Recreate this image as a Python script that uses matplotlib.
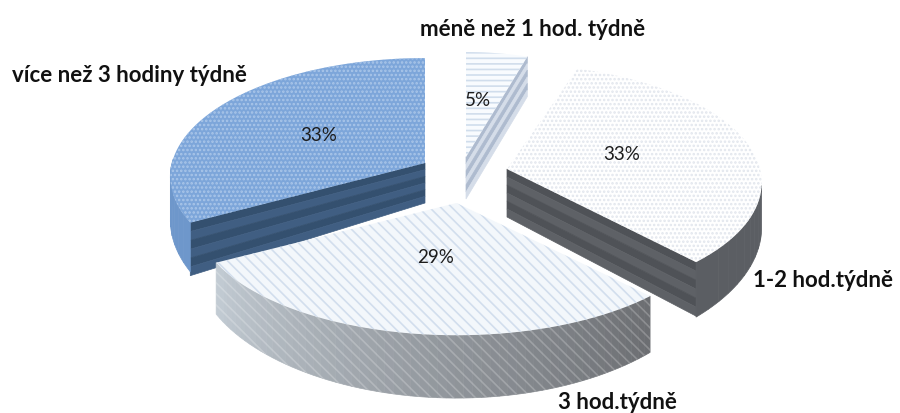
import numpy as np
import matplotlib
matplotlib.use("Agg")
import matplotlib.pyplot as plt
from matplotlib.colors import to_rgb

# --- data ---
categories = ["méně než 1 hod. týdně", "1-2 hod.týdně", "3 hod.týdně", "více než 3 hodiny týdně"]
shares = [5, 33, 29, 33]
pct_labels = ["5%", "33%", "29%", "33%"]

# --- layout / style ---
W, H = 900, 414
R, RY, P, P_DEPTH = 253, 117, 0.115, 0.30
apex = [(466, 158), (507, 170), (456.5, 204), (425, 164)]
x_scale = [0.87, 1.0, 1.024, 1.0]
rim_depth = [42, 43, 44, 42]
label_xy = [(533, 29), (823, 281), (617, 403), (129, 76)]
pct_xy = [(478, 101), (622, 155), (436, 258), (319, 136)]

plt.rcParams["hatch.linewidth"] = 1.2
plt.rcParams["font.family"] = ["Lato", "DejaVu Sans"]
fig = plt.figure(figsize=(W / 100, H / 100), dpi=100)
ax = fig.add_axes([0, 0, 1, 1])
ax.set_xlim(0, W)
ax.set_ylim(H, 0)
ax.axis("off")


def pt(c, th, sx=1.0):
    u, v = np.sin(th), np.cos(th)
    s = 1 / (1 + P * v)
    return c[0] + R * sx * u * s, c[1] - RY * v * s


def dep(d, th):
    return d / (1 + P_DEPTH * np.cos(th))


def lerp(a, b, t):
    a, b = np.array(to_rgb(a)), np.array(to_rgb(b))
    return tuple(a + (b - a) * t)


def fill(xs, ys, fc, hatch=None, ec=None, z=1):
    ax.fill(xs, ys, facecolor=fc, edgecolor=ec if ec else fc,
            hatch=hatch, linewidth=0.5 if not hatch else 0, zorder=z)


def radial_face(c, th, dc, de, colors, z, sx=1.0):
    x1, y1 = pt(c, th, sx)
    n = 6
    for i in range(n):
        f0, f1 = i / n, (i + 1) / n
        xs = [c[0], x1, x1, c[0]]
        ys = [c[1] + dc * f0, y1 + de * f0, y1 + de * f1, c[1] + dc * f1]
        fill(xs, ys, colors[i % 2], z=z)


def band_outline(c, t0, t1, d, sx=1.0, n=60):
    a = np.linspace(t0, t1, n)
    p = np.array([pt(c, t, sx) for t in a])
    low = p[:, 1] + np.array([dep(d, t) for t in a])
    return np.r_[p[:, 0], p[::-1, 0]], np.r_[p[:, 1], low[::-1]]


def outer_band(c, t0, t1, d, shade, z=1, n=24, sx=1.0):
    ts = np.linspace(t0, t1, n + 1)
    for i in range(n):
        xs, ys = band_outline(c, ts[i], ts[i + 1], d, sx, 4)
        fill(xs, ys, shade((i + .5) / n), z=z)


def top(c, t0, t1, fc, hatch, ec, z, sx=1.0):
    a = np.linspace(t0, t1, 120)
    p = np.array([pt(c, t, sx) for t in a])
    fill(np.r_[c[0], p[:, 0]], np.r_[c[1], p[:, 1]], fc, hatch=hatch, ec=ec, z=z)


edges = np.cumsum([0] + shares) / sum(shares) * 2 * np.pi
span = list(zip(edges[:-1], edges[1:]))

# 5 %
c, (a, b), sx = apex[0], span[0], x_scale[0]
radial_face(c, b, 42, 40, ["#aebbcf", "#d5dde9"], 1, sx)
top(c, a, b, "#f8fbfe", "---", "#d0ddec", 2, sx)

# 33 % blue
c, (a, b), sx = apex[3], span[3], x_scale[3]
radial_face(c, a, 40, 53, ["#34506f", "#405e82"], 3, sx)
outer_band(c, a, np.radians(272), rim_depth[3], lambda t: "#6e97cb", z=3, n=8, sx=sx)
top(c, a, b, "#7da6da", "....", "#aac6e9", 4, sx)

# 29 %
c, (a, b), sx = apex[2], span[2], x_scale[2]
outer_band(c, a, b, rim_depth[2], lambda t: lerp("#6b6d71", "#c3ccd4", t), z=5, n=60, sx=sx)
xs, ys = band_outline(c, a, b, rim_depth[2], sx)
ax.fill(xs, ys, facecolor="none", edgecolor=(1, 1, 1, 0.22), hatch="\\\\\\", linewidth=0, zorder=5.5)
top(c, a, b, "#f3f7fb", "\\\\\\", "#d2deed", 6, sx)

# 33 % white
c, (a, b), sx = apex[1], span[1], x_scale[1]
radial_face(c, b, 48, 54, ["#4f5257", "#5e6166"], 7, sx)
outer_band(c, np.radians(98), b, rim_depth[1], lambda t: "#5b5e63", z=7, n=10, sx=sx)
top(c, a, b, "#ffffff", "....", "#e2e6ed", 8, sx)

for (x, y), s in zip(pct_xy, pct_labels):
    ax.text(x, y, s, ha="center", va="center", fontsize=13.5, color="#1c1c1c", zorder=10)
for (x, y), s in zip(label_xy, categories):
    ax.text(x, y, s, ha="center", va="center", fontsize=16, fontweight="bold", color="#111111", zorder=10)

fig.savefig("out.png", dpi=100)
